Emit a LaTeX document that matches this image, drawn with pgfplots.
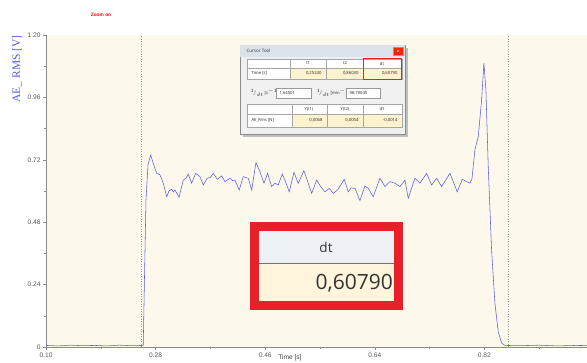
\documentclass[border=0pt]{standalone}
\usepackage{fontspec}
\setmainfont{Liberation Sans}
\newfontfamily\serifff{Liberation Serif}
\newfontfamily\dlg{Open Sans}
\usepackage{pgfplots}
\pgfplotsset{compat=1.18}
\definecolor{plotbg}{HTML}{FCF8EC}
\definecolor{sig}{HTML}{5C5CE8}
\definecolor{axgray}{HTML}{8A8A8A}
\definecolor{dlgbg}{HTML}{F0F0F0}
\definecolor{titlebg}{HTML}{DCE2EA}
\definecolor{cellcream}{HTML}{FFF3CF}
\definecolor{boxred}{HTML}{E8202A}
\definecolor{hdrgray}{HTML}{EDF0F5}
\definecolor{valcream}{HTML}{FFF5DC}
\begin{document}
\begin{tikzpicture}[x=1pt,y=1pt]
\useasboundingbox (0,0) rectangle (587,363);
\begin{axis}[
  at={(46pt,16pt)}, anchor=south west,
  scale only axis, width=548pt, height=312pt,
  xmin=0.1, xmax=1.0, ymin=0, ymax=1.2,
  axis background/.style={fill=plotbg},
  axis lines=left, axis line style={-, axgray, line width=0.5pt},
  tick align=outside, major tick length=3pt, minor tick length=2pt,
  tick style={axgray, line width=0.4pt},
  xtick={0.10,0.28,0.46,0.64,0.82,1.00},
  xticklabels={0.10,0.28,0.46,0.64,0.82,1.00},
  minor xtick={0.19,0.37,0.55,0.73,0.91},
  ytick={0,0.24,0.48,0.72,0.96,1.20},
  yticklabels={0,0.24,0.48,0.72,0.96,1.20},
  minor ytick={0.12,0.36,0.60,0.84,1.08},
  /pgf/number format/assume math mode=true,
  ticklabel style={font=\fontsize{6.6}{7}\selectfont, text=black!65},
  xticklabel style={yshift=1pt},
  yticklabel style={xshift=1pt},
  xlabel={Time [s]},
  xlabel style={at={(axis description cs:0.445,-0.034)}, anchor=center, font=\fontsize{6.6}{7}\selectfont, text=black!75},
  ylabel={AE\_ RMS [V]},
  ylabel style={at={(axis description cs:-0.053,0.891)}, anchor=center, font=\serifff\fontsize{11.5}{12}\selectfont, text=sig},
]
\addplot[black!40, dotted, line width=0.5pt] coordinates {(0.257,0) (0.257,1.2)};
\addplot[black!40, dotted, line width=0.5pt] coordinates {(0.859,0) (0.859,1.2)};
\addplot[sig, line width=0.55pt] coordinates {
(0.100,0.006) (0.120,0.004) (0.140,0.007) (0.160,0.005) (0.180,0.006) (0.200,0.004)
(0.220,0.007) (0.240,0.005) (0.2597,0.006)
(0.2617,0.26) (0.2642,0.565) (0.2675,0.700) (0.2719,0.738)
(0.2762,0.706) (0.2818,0.668) (0.2872,0.662) (0.2926,0.630) (0.2982,0.578)
(0.3020,0.600) (0.3064,0.607) (0.3090,0.596) (0.3118,0.604) (0.3184,0.576)
(0.3255,0.642) (0.3300,0.650) (0.3337,0.665) (0.3392,0.630) (0.3458,0.668)
(0.3529,0.655) (0.3583,0.623) (0.3649,0.649) (0.3700,0.652) (0.3747,0.668)
(0.3813,0.645) (0.3885,0.658) (0.3939,0.636) (0.4021,0.649) (0.4060,0.640)
(0.4103,0.642) (0.4174,0.604) (0.4240,0.655) (0.4322,0.649) (0.4378,0.604)
(0.4448,0.709) (0.4514,0.674) (0.4580,0.630) (0.4640,0.668) (0.4706,0.617)
(0.4760,0.630) (0.4814,0.623) (0.4880,0.665) (0.4924,0.642) (0.4995,0.597)
(0.5072,0.672) (0.5143,0.630) (0.5236,0.678) (0.5307,0.630) (0.5363,0.591)
(0.5445,0.642) (0.5511,0.617) (0.5581,0.597) (0.5652,0.610) (0.5718,0.591)
(0.5790,0.604) (0.5898,0.645) (0.5964,0.597) (0.6010,0.612) (0.6075,0.610)
(0.6156,0.563) (0.6238,0.619) (0.6292,0.610) (0.6374,0.578) (0.6484,0.649)
(0.6567,0.617) (0.6649,0.636) (0.6731,0.630) (0.6813,0.617) (0.6895,0.642)
(0.6949,0.572) (0.7059,0.649) (0.7141,0.630) (0.7251,0.668) (0.7333,0.623)
(0.7415,0.649) (0.7497,0.617) (0.7634,0.668) (0.7754,0.597) (0.7836,0.645)
(0.7908,0.636) (0.7962,0.630) (0.7995,0.645) (0.8044,0.758) (0.8099,0.809)
(0.8154,0.950) (0.8192,1.093) (0.8225,0.988) (0.8263,0.694) (0.8318,0.373)
(0.8373,0.168) (0.8427,0.059) (0.8483,0.015) (0.8537,0.006)
(0.880,0.005) (0.910,0.007) (0.940,0.004) (0.970,0.006) (1.000,0.005)
};
\end{axis}
% overlays in image pixel coordinates (y downward)
\begin{scope}[shift={(0,363)}, yscale=-1]
  \node[text=red, font=\bfseries\fontsize{4.8}{5}\selectfont] at (101,15) {Zoom on};
  % Cursor tool dialog
  \fill[black!25] (243,48) rectangle (408,137);
  \filldraw[fill=dlgbg, draw=black!45, line width=0.4pt] (240,45) rectangle (405,134);
  \fill[titlebg] (240.3,45.3) rectangle (404.7,57);
  \node[anchor=west, font=\dlg\fontsize{4.5}{5}\selectfont, text=black!80] at (243,51) {Cursor Tool};
  \filldraw[fill=red!75!orange, draw=black!40, line width=0.3pt] (393,47.5) rectangle (403,55);
  \node[text=white, font=\bfseries\fontsize{4}{4}\selectfont] at (398,51.2) {x};
  \begin{scope}[font=\dlg\fontsize{4.2}{5}\selectfont, text=black!85]
    % table 1
    \fill[white] (247,59) rectangle (402,79);
    \fill[cellcream] (290,68) rectangle (402,79);
    \draw[black!35, line width=0.3pt] (247,59) rectangle (402,79) (247,68) -- (402,68)
      (290,59) -- (290,79) (326,59) -- (326,79) (363,59) -- (363,79);
    \node at (308,63.5) {t1}; \node at (345,63.5) {t2}; \node at (382,63.5) {dt};
    \node[anchor=west] at (248,73.5) {Time [s]};
    \node[anchor=east] at (325,73.5) {0,25240};
    \node[anchor=east] at (362,73.5) {0,86030};
    \node[anchor=east] at (401,73.5) {0,60790};
    \draw[boxred, line width=1.3pt] (363.5,58.5) rectangle (401.5,79.5);
    % middle line
    \node[anchor=west] at (247,93) {$^{1}\!/_{dt}$ [s$^{-1}$]};
    \filldraw[fill=white, draw=black!40, line width=0.3pt] (276,88) rectangle (311,98);
    \node[anchor=west] at (276,93) {1,64501};
    \node[anchor=west] at (313,93) {$^{1}\!/_{dt}$ [min$^{-1}$]};
    \filldraw[fill=white, draw=black!40, line width=0.3pt] (346,88) rectangle (380,98);
    \node[anchor=west] at (346,93) {98,70045};
    % table 2
    \fill[white] (247,104) rectangle (402,127);
    \fill[cellcream] (292,114) rectangle (402,127);
    \draw[black!35, line width=0.3pt] (247,104) rectangle (402,127) (247,114) -- (402,114)
      (292,104) -- (292,127) (327,104) -- (327,127) (363,104) -- (363,127);
    \node at (309,109) {Y(t1)}; \node at (345,109) {Y(t2)}; \node at (382,109) {dY};
    \node[anchor=west] at (248,120.5) {AE\_Rms [N]};
    \node[anchor=east] at (326,120.5) {0,0068};
    \node[anchor=east] at (362,120.5) {0,0054};
    \node[anchor=east] at (401,120.5) {-0,0014};
  \end{scope}
  % big red zoom box
  \fill[boxred] (250,222) rectangle (403,310);
  \fill[hdrgray] (259,231) rectangle (394,263.5);
  \fill[valcream] (259,263.5) rectangle (394,301);
  \draw[black!55, line width=0.9pt] (259,263.5) -- (394,263.5);
  \node[font=\dlg\fontsize{13.5}{14}\selectfont, text=black!80] at (326,247) {dt};
  \node[anchor=east, font=\dlg\fontsize{21}{22}\selectfont, text=black!80, inner sep=1pt] at (394,283) {0,60790};
\end{scope}
\end{tikzpicture}
\end{document}
